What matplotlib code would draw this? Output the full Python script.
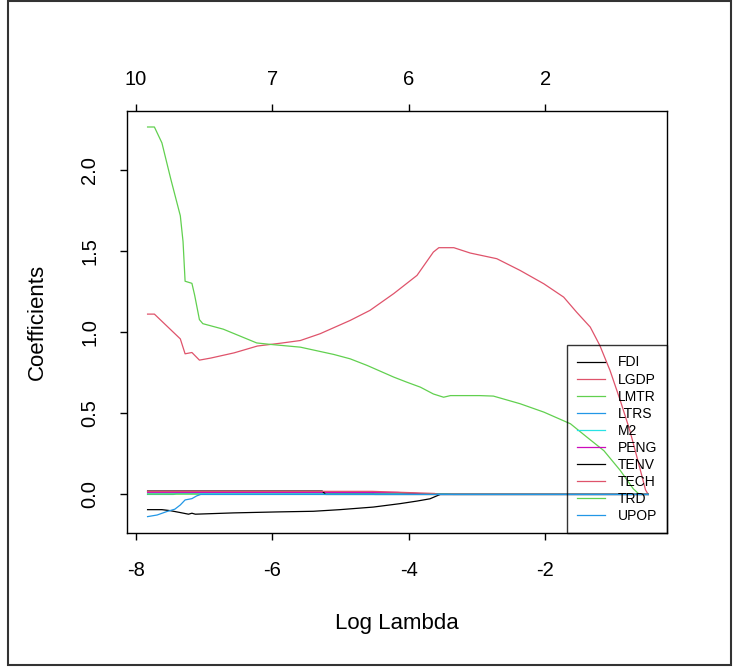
import numpy as np
import matplotlib
matplotlib.use("Agg")
import matplotlib.pyplot as plt
from matplotlib.patches import Rectangle

plt.rcParams['font.family'] = ['Liberation Sans', 'DejaVu Sans']
plt.rcParams['axes.unicode_minus'] = False

# variable names in the order of the legend
names = ['FDI', 'LGDP', 'LMTR', 'LTRS', 'M2', 'PENG', 'TENV', 'TECH', 'TRD', 'UPOP']
# R palette, recycled every 6 columns
palette = ['#000000', '#DF536B', '#61D04F', '#2297E6', '#28E2E5', '#CD0BBC']

# coefficient paths (log lambda, coefficient)
fdi_x = [-7.83, -7.62, -7.50, -7.35, -7.23, -7.18, -7.13, -6.57, -5.93, -5.40,
         -5.01, -4.52, -4.13, -3.88, -3.69, -3.59, -3.54, -0.49]
fdi_y = [-0.094, -0.094, -0.100, -0.112, -0.122, -0.116, -0.122, -0.114, -0.108, -0.104,
         -0.094, -0.078, -0.057, -0.041, -0.027, -0.009, 0.0, 0.0]

lgdp_x = [-7.83, -7.73, -7.35, -7.28, -7.18, -7.07, -6.90, -6.56, -6.22, -5.87,
          -5.59, -5.30, -4.86, -4.57, -4.22, -3.88, -3.76, -3.64, -3.56, -3.34,
          -3.10, -2.71, -2.37, -2.02, -1.73, -1.54, -1.34, -1.20, -1.05, -0.90,
          -0.76, -0.63, -0.53, -0.49]
lgdp_y = [1.113, 1.113, 0.960, 0.868, 0.876, 0.829, 0.842, 0.874, 0.916, 0.934,
          0.950, 0.992, 1.074, 1.136, 1.240, 1.352, 1.424, 1.496, 1.523, 1.523,
          1.490, 1.455, 1.383, 1.300, 1.218, 1.125, 1.033, 0.920, 0.765, 0.580,
          0.395, 0.190, 0.028, 0.0]

lmtr_x = [-7.83, -7.73, -7.62, -7.49, -7.35, -7.31, -7.28, -7.18, -7.14, -7.07,
          -7.02, -6.72, -6.23, -6.03, -5.59, -5.10, -4.86, -4.61, -4.22, -4.03,
          -3.83, -3.64, -3.49, -3.39, -2.96, -2.76, -2.37, -2.02, -1.63, -1.39,
          -1.14, -0.90, -0.71, -0.62, -0.49]
lmtr_y = [2.268, 2.268, 2.170, 1.947, 1.720, 1.560, 1.316, 1.303, 1.230, 1.079,
          1.054, 1.020, 0.935, 0.926, 0.909, 0.864, 0.837, 0.796, 0.724, 0.693,
          0.662, 0.620, 0.600, 0.610, 0.610, 0.607, 0.560, 0.508, 0.436, 0.354,
          0.270, 0.148, 0.035, 0.0, 0.0]

ltrs_x = [-7.83, -7.45, -7.40, -4.54, -4.50, -0.49]
ltrs_y = [0.0, 0.0, 0.008, 0.008, 0.0, 0.0]

m2_x = [-7.83, -3.45, -3.35, -0.49]
m2_y = [0.004, 0.004, 0.0, 0.0]

peng_x = [-7.83, -4.16, -3.62, -0.49]
peng_y = [0.013, 0.012, 0.0, 0.0]

tenv_x = [-7.83, -5.27, -5.22, -0.49]
tenv_y = [0.021, 0.021, 0.0, 0.0]

tech_x = [-7.83, -4.54, -3.62, -3.58, -0.49]
tech_y = [0.019, 0.019, 0.006, 0.0, 0.0]

trd_x = [-7.83, -7.10, -7.05, -0.49]
trd_y = [0.002, 0.002, 0.0, 0.0]

upop_x = [-7.83, -7.69, -7.55, -7.43, -7.35, -7.28, -7.18, -7.11, -7.05, -0.49]
upop_y = [-0.137, -0.127, -0.106, -0.091, -0.065, -0.034, -0.026, -0.009, 0.0, 0.0]

paths = [(fdi_x, fdi_y), (lgdp_x, lgdp_y), (lmtr_x, lmtr_y), (ltrs_x, ltrs_y),
         (m2_x, m2_y), (peng_x, peng_y), (tenv_x, tenv_y), (tech_x, tech_y),
         (trd_x, trd_y), (upop_x, upop_y)]

# top axis: number of nonzero coefficients
top_ticks = [-8, -6, -4, -2]
top_labels = ['10', '7', '6', '2']

fig = plt.figure(figsize=(7.34, 6.7), dpi=100)
ax = fig.add_axes([0.173, 0.2045, 0.7357, 0.6299])

for i, (px, py) in enumerate(paths):
    ax.plot(px, py, color=palette[i % 6], lw=0.9, label=names[i])

ax.set_xlim(-8.132, -0.215)
ax.set_ylim(-0.238, 2.367)
ax.set_xticks([-8, -6, -4, -2])
ax.set_yticks([0.0, 0.5, 1.0, 1.5, 2.0])
ax.set_yticklabels(['0.0', '0.5', '1.0', '1.5', '2.0'], rotation=90, va='center')
ax.tick_params(axis='x', length=5, width=1, labelsize=14.5, pad=15)
ax.tick_params(axis='y', length=5, width=1, labelsize=14.5, pad=15)
for s in ax.spines.values():
    s.set_linewidth(1.0)

top = ax.secondary_xaxis('top')
top.set_xticks(top_ticks)
top.set_xticklabels(top_labels)
top.tick_params(length=5, width=1, labelsize=14.5, pad=11)
top.spines['top'].set_visible(False)

ax.set_xlabel('Log Lambda', fontsize=16, labelpad=24)
ax.set_ylabel('Coefficients', fontsize=16, labelpad=23)

# R legend box is transparent, curves show through it
leg = ax.legend(loc='lower right', bbox_to_anchor=(1.0, 0.0), fontsize=10,
                frameon=True, fancybox=False, edgecolor='black', borderaxespad=0,
                handlelength=2.0, handletextpad=0.9, labelspacing=0.22,
                borderpad=0.72)
leg.get_frame().set_linewidth(1.0)
leg.get_frame().set_facecolor('none')

fig.patches.append(Rectangle((8 / 734, 5 / 670), 723 / 734, 664 / 670,
                             transform=fig.transFigure, fill=False,
                             edgecolor='#333333', lw=1.5))

fig.savefig('out.png', dpi=100)
